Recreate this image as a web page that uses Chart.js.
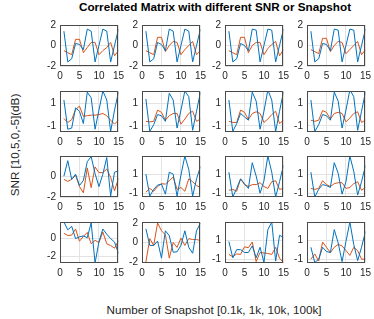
<!DOCTYPE html>
<html>
<head>
<meta charset="utf-8">
<script src="https://cdn.jsdelivr.net/npm/chart.js@4.4.1/dist/chart.umd.min.js"></script>
<style>
  body { margin: 0; background: #fff; }
  #wrap { position: relative; width: 374px; height: 319px; overflow: hidden; font-family: "Liberation Sans", Arial, sans-serif; color: #000; }
  .panel { position: absolute; }
  .lbl { position: absolute; white-space: nowrap; }
  #title { left: 215px; top: 0px; transform: translateX(-50%); font-weight: bold; font-size: 11.7px; }
  #xlab { left: 214px; top: 303px; transform: translateX(-50%); font-size: 11.7px; color: #262626; }
  #ylab { left: 14px; top: 145px; transform: translate(-50%, -50%) rotate(-90deg); font-size: 11.7px; color: #262626; }
</style>
</head>
<body>
<div id="wrap">
  <div class="lbl" id="title">Correlated Matrix with different SNR or Snapshot</div>
  <div class="lbl" id="xlab">Number of Snapshot [0.1k, 1k, 10k, 100k]</div>
  <div class="lbl" id="ylab">SNR [10,5,0,-5](dB)</div>
</div>
<script>
// snapshot index on every small plot
const xSnap = [1, 2, 3, 4, 5, 6, 7, 8, 9, 10, 11, 12, 13, 14, 15];
const xTicks = [0, 5, 10, 15];

// row 1 (SNR 10 dB)
const b11 = [1.4, -1.6, -1.3, 0.2, 0.1, -0.4, 1.6, 1.4, -1.6, 0, 1.6, 1.4, -1.6, 0, 1.6];
const o11 = [-0.5, -0.7, -0.9, 0.6, 0.6, -0.7, -0.2, 0.3, 0.3, -0.9, -0.5, -0.2, 0.3, -1.0, -0.5];
const b12 = [1.4, -1.6, -1.3, 0.3, 0.1, -0.5, 1.6, 1.4, -1.6, 0, 1.6, 1.4, -1.6, 0, 1.6];
const o12 = [-0.5, -0.7, -0.9, 0.8, 0.8, -0.6, 0, 0.4, 0.3, -0.9, -0.4, 0, 0.4, -0.9, -0.5];
const b13 = [1.4, -1.6, -1.3, 0.2, 0, -0.5, 1.6, 1.5, -1.6, 0, 1.6, 1.5, -1.6, 0, 1.6];
const o13 = [-0.5, -0.7, -0.9, 0.8, 0.8, -0.7, 0, 0.3, 0.3, -0.9, -0.3, 0.1, 0.4, -1.0, -0.4];
const b14 = [1.4, -1.6, -1.3, 0.2, 0.1, -0.5, 1.6, 1.5, -1.6, 0, 1.6, 1.5, -1.6, 0, 1.6];
const o14 = [-0.4, -0.6, -0.8, 0.7, 0.7, -0.6, 0, 0.4, 0.3, -0.8, -0.4, 0, 0.4, -0.9, -0.4];

// row 2 (SNR 5 dB)
const b21 = [1.3, -1.3, -1.2, 0.6, 0.3, -0.8, 2.0, 1.5, -1.3, 0.4, 2.1, 1.3, -1.5, 0.4, 2.0];
const o21 = [-0.35, -0.7, -0.45, 0.45, 0.75, -0.15, -0.1, -0.05, -0.05, 0, 0.1, -0.1, -0.5, -0.85, -0.5];
const b22 = [1.4, -1.5, -0.9, 0, -0.1, -0.6, 1.9, 1.3, -1.2, 0.4, 2.1, 1.6, -1.4, 0.3, 2.0];
const o22 = [-0.6, -0.65, -0.6, 0.4, 0.2, -0.5, -0.1, 0.1, 0.1, -0.85, -0.4, 0.1, 0.3, -0.6, -0.4];
const b23 = [1.3, -1.5, -0.8, 0.1, -0.2, -0.5, 2.0, 1.2, -1.3, 0.3, 2.2, 1.3, -1.5, 0.3, 2.0];
const o23 = [-0.6, -0.7, -0.7, 0.4, 0.2, -0.45, 0.1, 0.25, 0.1, -0.7, -0.4, 0, 0.3, -0.8, -0.5];
const b24 = [1.3, -1.5, -0.9, 0, -0.1, -0.5, 2.0, 1.2, -1.2, 0.4, 2.2, 1.6, -1.4, 0.3, 2.0];
const o24 = [-0.5, -0.6, -0.5, 0.35, 0.2, -0.4, 0.1, 0.2, 0.1, -0.65, -0.3, 0.1, 0.25, -0.7, -0.5];

// row 3 (SNR 0 dB)
const b31 = [0, 1.5, -0.3, 0.2, -0.9, -0.4, 1.4, 1.9, 0.25, -1.0, 0.2, 1.8, -1.9, 0.4, 0.5];
const o31 = [-0.3, -0.5, -0.3, 0.1, -1.0, -1.6, 0.8, -1.1, 0.9, 0.35, 0.35, 0.7, -0.1, -1.4, -0.2];
const b32 = [1.0, -1.3, -0.6, -0.15, -0.05, -1.1, 1.2, 1.0, -1.3, 0.9, 2.9, 1.5, -1.3, 0.5, 1.8];
const o32 = [-0.9, -0.5, -0.8, -0.3, 0, -0.05, 0.3, 0.7, -0.6, -0.4, -0.8, 0.5, 0.2, -0.2, -0.4];
const b33 = [1.2, -1.4, -0.5, 0.5, 0, -0.5, 2.2, 0.8, -1.0, 0.3, 2.9, 1.2, -1.4, 0.2, 1.9];
const o33 = [-0.7, -0.6, -0.8, 0.5, -0.1, -0.3, -0.1, -0.1, 0.1, -0.3, -0.5, 0.2, 0.3, -0.6, -0.5];
const b34 = [1.2, -1.4, -0.6, -0.1, -0.2, -0.4, 2.2, 1.1, -1.1, 0.2, 2.9, 1.3, -1.2, 0.2, 1.9];
const o34 = [-0.5, -0.6, -0.5, 0.3, -0.1, -0.3, 0, 0.1, 0.1, -0.5, -0.4, 0, 0.2, -0.7, -0.4];

// row 4 (SNR -5 dB)
const b41 = [1.9, 1.0, 1.4, 0, 0.2, 0.3, 0.1, 1.8, -2.8, -0.35, 1.1, 0.5, 0, -0.4, -1.7];
const o41 = [0.6, 0.35, 0.4, 1.1, -0.3, 0.25, 0.7, -0.6, -0.2, -0.45, 0.75, -0.6, -0.8, -1.1, -0.25];
const b42 = [1.4, -0.3, -0.3, 0.15, -1.6, 1.2, 0.7, -1.0, -0.95, -0.3, 1.2, -0.5, -1.1, 1.2, 2.0];
const o42 = [-2.0, 0.4, -0.3, 2.0, 1.2, 0.8, -1.6, 0, -0.5, 0.45, -0.3, 0.4, 0.3, 0.3, 0.2];
const b43 = [0.85, -0.85, 0, 0, -0.3, -0.3, 0.4, -0.85, 0.25, -1.35, 2.1, 2.9, -1.2, 1.5, 1.3];
const o43 = [-0.5, -0.75, -0.45, -0.5, 0.3, 0.2, 0.8, -1.25, -0.3, -0.35, -0.4, -0.5, 0.25, -0.9, -1.35];
const b44 = [0.25, -1.35, -1.0, 0.25, -0.2, -0.3, 2.1, 0.7, -1.25, 0.85, 2.9, 0.55, -1.15, 0.25, 1.9];
const o44 = [-1.0, -0.45, -1.2, 0.8, 0.25, -0.3, 0.25, 0.55, 0.4, -0.1, -0.6, 0.25, -0.1, -1.0, -1.0];

// y limits and y tick labels, one per panel (row by row)
const yMin = [-2, -2, -2, -2,  -1.55, -1.55, -1.55, -1.55,  -2, -1.4, -1.4, -1.4,  -2.8, -2.1, -1.4, -1.4];
const yMax = [2, 2, 2, 2,  2.1, 2.1, 2.1, 2.1,  1.95, 2.9, 2.9, 2.9,  1.9, 2.1, 2.9, 2.9];
const yTicksA = [-2, 0, 2];
const yTicksB = [-1, 0, 1, 2];
const yTicksC = [-2, -1, 0, 1];

const blues = [b11, b12, b13, b14, b21, b22, b23, b24, b31, b32, b33, b34, b41, b42, b43, b44];
const oranges = [o11, o12, o13, o14, o21, o22, o23, o24, o31, o32, o33, o34, o41, o42, o43, o44];
const yTickSets = [yTicksA, yTicksA, yTicksA, yTicksA,
                   yTicksB, yTicksB, yTicksB, yTicksB,
                   yTicksC, yTicksB, yTicksB, yTicksB,
                   yTicksC, yTicksA, yTicksB, yTicksB];

// layout of the grid of axes
const colLeft = [60, 142, 224.5, 306.5];
const rowTop = [22, 87.5, 153, 218.5];
const plotW = 60, plotH = 44.5;
const padL = 24, padT = 7, padR = 8, padB = 18;

const tickFont = { family: '"Liberation Sans", Arial, sans-serif', size: 10 };

// matlab style box round every axes
const boxPlugin = {
  id: 'box',
  afterDraw(chart) {
    const a = chart.chartArea, ctx = chart.ctx;
    ctx.save();
    ctx.strokeStyle = '#4a4a4a';
    ctx.lineWidth = 1;
    ctx.strokeRect(Math.round(a.left) + 0.5, Math.round(a.top) + 0.5, Math.round(a.width) - 1, Math.round(a.height) - 1);
    ctx.restore();
  }
};

const wrap = document.getElementById('wrap');
const pts = arr => arr.map((v, i) => ({ x: xSnap[i], y: v }));

for (let r = 0; r < 4; r++) {
  for (let c = 0; c < 4; c++) {
    const k = r * 4 + c;
    const cv = document.createElement('canvas');
    cv.className = 'panel';
    cv.width = padL + plotW + padR;
    cv.height = padT + plotH + padB;
    cv.style.left = (colLeft[c] - padL) + 'px';
    cv.style.top = (rowTop[r] - padT) + 'px';
    wrap.appendChild(cv);

    new Chart(cv, {
      type: 'line',
      data: {
        datasets: [
          { data: pts(blues[k]), borderColor: '#0072BD', borderWidth: 1, pointRadius: 0, tension: 0 },
          { data: pts(oranges[k]), borderColor: '#D95319', borderWidth: 1, pointRadius: 0, tension: 0 }
        ]
      },
      options: {
        responsive: false,
        animation: false,
        events: [],
        layout: { padding: { left: 0, top: padT, right: padR, bottom: 0 } },
        plugins: { legend: { display: false }, tooltip: { enabled: false } },
        scales: {
          x: {
            type: 'linear', min: 0, max: 15,
            afterBuildTicks: s => { s.ticks = xTicks.map(v => ({ value: v })); },
            afterFit: s => { s.height = padB; },
            grid: { color: '#e3e3e3', drawTicks: false },
            border: { display: false },
            ticks: { font: tickFont, color: '#262626', padding: 4, maxRotation: 0 }
          },
          y: {
            min: yMin[k], max: yMax[k],
            afterBuildTicks: s => { s.ticks = yTickSets[k].map(v => ({ value: v })); },
            afterFit: s => { s.width = padL; },
            grid: { color: '#e3e3e3', drawTicks: false },
            border: { display: false },
            ticks: { font: tickFont, color: '#262626', padding: 4 }
          }
        }
      },
      plugins: [boxPlugin]
    });
  }
}
</script>
</body>
</html>
